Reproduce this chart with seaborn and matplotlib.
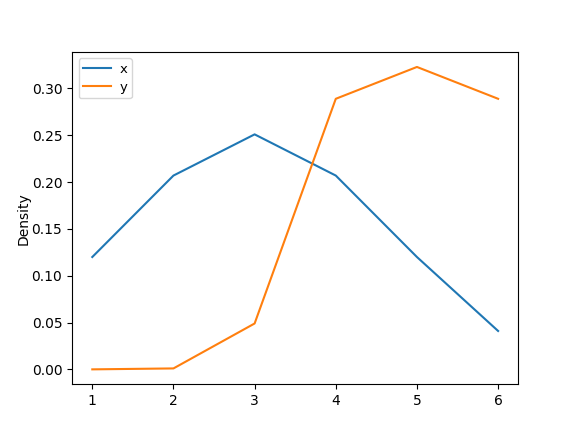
import matplotlib
matplotlib.use("Agg")
import matplotlib.pyplot as plt
import seaborn as sns
import pandas as pd

grid = [1, 2, 3, 4, 5, 6]
x_density = [0.120, 0.207, 0.251, 0.207, 0.120, 0.041]
y_density = [0.000, 0.001, 0.049, 0.289, 0.323, 0.289]

fig, ax = plt.subplots(figsize=(5.76, 4.32), dpi=100)
sns.lineplot(x=grid, y=x_density, ax=ax, color="#1f77b4", label="x")
sns.lineplot(x=grid, y=y_density, ax=ax, color="#ff7f0e", label="y")
ax.set_xlabel("")
ax.set_ylabel("Density", labelpad=0.5)
ax.legend(loc="upper left", fontsize=9.5, handlelength=2.1, labelspacing=0.35,
          borderpad=0.35, handletextpad=0.65)
fig.savefig("out.png", dpi=100)
